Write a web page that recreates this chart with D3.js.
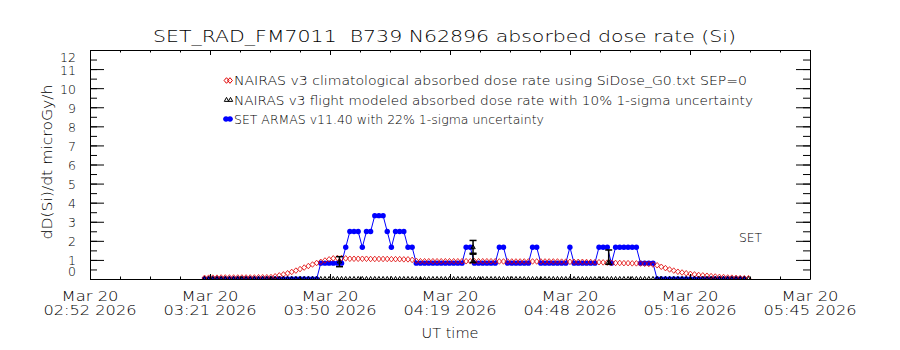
<!DOCTYPE html>
<html><head><meta charset="utf-8">
<script src="https://cdn.jsdelivr.net/npm/d3@7"></script>
<style>
body{margin:0;background:#fff}
svg{display:block}
text{font-family:"DejaVu Sans",sans-serif;font-weight:200;fill:#000;white-space:pre}
</style>
</head><body>
<svg id="c" width="900" height="350"></svg>
<script>
// ---------------- data ----------------
const chartTitle = "SET_RAD_FM7011  B739 N62896 absorbed dose rate (Si)";
const yAxisLabel = "dD(Si)/dt microGy/h";
const xAxisLabel = "UT time";
const cornerLabel = "SET";
const xDomain = ["2026-03-20T02:52:25", "2026-03-20T05:45:49"];
const xTickDateLabels = ["Mar 20","Mar 20","Mar 20","Mar 20","Mar 20","Mar 20","Mar 20"];
const xTickTimeLabels = ["02:52 2026","03:21 2026","03:50 2026","04:19 2026","04:48 2026","05:16 2026","05:45 2026"];
const yDomain = [0, 12];
const yTicks = [0,1,2,3,4,5,6,7,8,9,10,11,12];
const legendLabels = [
  "NAIRAS v3 climatological absorbed dose rate using SiDose_G0.txt SEP=0",
  "NAIRAS v3 flight modeled absorbed dose rate with 10% 1-sigma uncertainty",
  "SET ARMAS v11.40 with 22% 1-sigma uncertainty"
];
// one-minute samples starting at sampleStart
const sampleStart = "2026-03-20T03:20:00";
const sampleStepSec = 60;
// SET ARMAS measured dose rate (microGy/h)
const armasDose = [
  0,0,0,0,0,0,0,0,0,0,0,0,0,0,0,0,0,0,0,0,0,0,0,0,0,0,0,0,
  0.83,0.83,0.83,0.83,0.83,0.83,
  1.66,2.49,2.49,2.49,1.66,2.49,2.49,3.32,3.32,3.32,2.49,1.66,2.49,2.49,2.49,1.66,1.66,
  0.83,0.83,0.83,0.83,0.83,0.83,0.83,0.83,0.83,0.83,0.83,0.83,
  1.66,1.66,
  0.83,0.83,0.83,0.83,0.83,0.83,
  1.66,1.66,
  0.83,0.83,0.83,0.83,0.83,0.83,
  1.66,1.66,
  0.83,0.83,0.83,0.83,0.83,0.83,0.83,
  1.66,
  0.83,0.83,0.83,0.83,0.83,0.83,
  1.66,1.66,1.66,
  0.83,
  1.66,1.66,1.66,1.66,1.66,1.66,
  0.83,0.83,0.83,0.83,
  0,0,0,0,0,0,0,0,0,0,0,0,0,0,0,0,0,0,0,0,0,0
];
// NAIRAS climatological dose rate
const nairasClimDose = [
  0.06,0.07,0.07,0.07,0.08,0.08,0.08,0.08,0.08,0.08,0.08,0.08,0.08,0.09,0.09,0.09,
  0.10,0.14,0.19,0.24,0.30,0.37,0.44,0.52,0.60,0.68,0.76,0.84,
  0.90,0.97,1.03,1.08,1.10,1.10,1.08,
  1.06,1.06,1.06,1.06,1.06,1.05,1.05,1.05,1.05,1.05,1.04,1.04,1.04,1.03,1.03,1.00,
  0.95,0.93,0.93,0.93,0.93,0.93,0.93,0.93,0.93,0.93,0.93,0.93,0.93,0.93,0.93,0.93,0.93,0.93,0.93,0.93,
  0.92,0.92,0.92,0.92,0.92,0.92,0.92,0.92,0.92,0.92,0.92,0.92,0.92,0.92,0.92,
  0.91,0.91,0.90,0.90,0.90,0.90,0.89,0.89,0.88,0.88,0.87,0.86,0.85,0.84,0.84,0.83,0.83,0.82,0.82,0.81,0.80,0.79,0.76,
  0.72,0.64,0.57,0.50,0.44,0.38,0.34,0.30,0.27,0.24,0.21,0.19,0.17,0.15,0.13,0.11,0.10,0.08,0.07,0.06,0.05,0.04,0.04
];
// NAIRAS flight-model track (zero where not computed)
const flightModelTrack = [
  0,0,0,0,0,0,0,0,0,0,0,0,0,0,0,0,0,0,0,0,0,0,0,0,0,0,0,0,0,0,0,0,0,0,0,0,0,0,0,0,0,0,0,0,
  0,0,0,0,0,0,0,0,0,0,0,0,0,0,0,0,0,0,0,0,0,0,0,0,0,0,0,0,0,0,0,0,0,0,0,0,0,0,0,0,0,0,0,0,
  0,0,0,0,0,0,0,0,0,0,0,0,0,0,0,0,0,0,0,0,0,0,0,0,0,0,0,0,0,0,0,0,0,0,0,0,0,0,0,0,0,0,0,0
];
// flight-model points with uncertainty bars
const fmTimes  = ["2026-03-20T03:52:30","2026-03-20T04:24:40","2026-03-20T04:24:40","2026-03-20T04:57:20"];
const fmValues = [0.91, 1.66, 0.95, 0.90];
const fmLow    = [0.645, 1.30, 0.86, 0.77];
const fmHigh   = [1.17, 2.02, 1.35, 1.52];

// ---------------- drawing ----------------
const W = 900, H = 350;
const M = {l: 90, r: 810, t: 50, b: 279};
const parse = d3.timeParse("%Y-%m-%dT%H:%M:%S");
const x = d3.scaleTime().domain(xDomain.map(parse)).range([M.l, M.r]);
const y = d3.scaleLinear().domain(yDomain).range([M.b, M.t]);
const t0 = parse(sampleStart);
const tAt = i => new Date(t0.getTime() + i * sampleStepSec * 1000);

const svg = d3.select("#c");
svg.append("rect").attr("width", W).attr("height", H).attr("fill", "#fff");
svg.append("defs").append("clipPath").attr("id", "plotclip")
  .append("rect").attr("x", M.l).attr("y", M.t).attr("width", M.r - M.l).attr("height", M.b - M.t);

const plot = svg.append("g").attr("clip-path", "url(#plotclip)");

const diamond = "M0,-2.8L2.4,0L0,2.8L-2.4,0Z";
const triangle = "M0,-2.6L2.2,1.4L-2.2,1.4Z";

// SET ARMAS: blue line + filled dots
const armasPts = armasDose.map((v, i) => [x(tAt(i)), y(v)]);
plot.append("path").attr("d", d3.line()(armasPts))
  .attr("fill", "none").attr("stroke", "#0000ff").attr("stroke-width", 1);
plot.append("g").selectAll("circle").data(armasPts).join("circle")
  .attr("cx", d => d[0]).attr("cy", d => d[1]).attr("r", 2.7).attr("fill", "#0000ff");

// NAIRAS climatological: red diamonds
plot.append("g").selectAll("path").data(nairasClimDose).join("path")
  .attr("d", diamond)
  .attr("transform", (v, i) => `translate(${x(tAt(i))},${y(v)})`)
  .attr("fill", "none").attr("stroke", "#e00000").attr("stroke-width", 1).attr("opacity", 0.8);

// flight model track: black triangles
plot.append("g").selectAll("path").data(flightModelTrack).join("path")
  .attr("d", triangle)
  .attr("transform", (v, i) => `translate(${x(tAt(i))},${y(v)})`)
  .attr("fill", "none").attr("stroke", "#000").attr("stroke-width", 1);

// flight model error bars
const eb = plot.append("g").attr("stroke", "#000").attr("stroke-width", 1.5).attr("fill", "none");
fmTimes.forEach((t, i) => {
  const cx = x(parse(t));
  eb.append("line").attr("x1", cx).attr("x2", cx).attr("y1", y(fmLow[i])).attr("y2", y(fmHigh[i]));
  eb.append("line").attr("x1", cx - 3.5).attr("x2", cx + 3.5).attr("y1", y(fmLow[i])).attr("y2", y(fmLow[i]));
  eb.append("line").attr("x1", cx - 3.5).attr("x2", cx + 3.5).attr("y1", y(fmHigh[i])).attr("y2", y(fmHigh[i]));
  eb.append("path").attr("d", triangle).attr("stroke-width", 1)
    .attr("transform", `translate(${cx},${y(fmValues[i])})`);
});

// ---------------- axes ----------------
const [d0, d1] = x.domain();
const majorT = d3.range(7).map(i => new Date(+d0 + (d1 - d0) * i / 6));
const minorT = d3.range(25).map(i => new Date(+d0 + (d1 - d0) * i / 24));
const yMinor = d3.range(0, 24.5).map(i => i / 2);

function styleAxis(g) {
  g.selectAll("path,line").attr("stroke", "#000").attr("stroke-width", 1);
  g.attr("font-family", "DejaVu Sans").attr("font-size", 12.5);
}
function addAxis(axisFn, transform, noDomain) {
  const g = svg.append("g").attr("transform", transform).call(axisFn).call(styleAxis);
  if (noDomain) g.select(".domain").remove();
  return g;
}
// bottom
addAxis(d3.axisBottom(x).tickValues(majorT).tickSizeInner(-5).tickSizeOuter(0).tickFormat(""), `translate(0,${M.b})`);
addAxis(d3.axisBottom(x).tickValues(minorT).tickSizeInner(-2.5).tickSizeOuter(0).tickFormat(""), `translate(0,${M.b})`, true);
// top
addAxis(d3.axisTop(x).tickValues(majorT).tickSizeInner(-5).tickSizeOuter(0).tickFormat(""), `translate(0,${M.t})`);
addAxis(d3.axisTop(x).tickValues(minorT).tickSizeInner(-2.5).tickSizeOuter(0).tickFormat(""), `translate(0,${M.t})`, true);
// left
const yl = addAxis(d3.axisLeft(y).tickValues(yTicks).tickSizeInner(-14).tickSizeOuter(0).tickPadding(14).tickFormat(d3.format("d")), `translate(${M.l},0)`);
addAxis(d3.axisLeft(y).tickValues(yMinor).tickSizeInner(-7).tickSizeOuter(0).tickFormat(""), `translate(${M.l},0)`, true);
yl.selectAll(".tick text").attr("y", d => d === 12 ? 7 : d === 0 ? -8 : 1);
// right
addAxis(d3.axisRight(y).tickValues(yTicks).tickSizeInner(-14).tickSizeOuter(0).tickFormat(""), `translate(${M.r},0)`);
addAxis(d3.axisRight(y).tickValues(yMinor).tickSizeInner(-7).tickSizeOuter(0).tickFormat(""), `translate(${M.r},0)`, true);

// x tick labels (two lines)
const xl = svg.append("g").attr("font-size", 13.5).attr("text-anchor", "middle");
majorT.forEach((t, i) => {
  xl.append("text").attr("x", x(t)).attr("y", 300.5).text(xTickDateLabels[i])
    .attr("textLength", 57).attr("lengthAdjust", "spacingAndGlyphs");
  xl.append("text").attr("x", x(t)).attr("y", 315).text(xTickTimeLabels[i])
    .attr("textLength", 93).attr("lengthAdjust", "spacingAndGlyphs");
});

// titles
svg.append("text").attr("x", 153).attr("y", 42).attr("font-size", 15).text(chartTitle)
  .attr("textLength", 583).attr("lengthAdjust", "spacingAndGlyphs");
svg.append("text").attr("x", 450).attr("y", 338).attr("font-size", 13.5).attr("text-anchor", "middle")
  .text(xAxisLabel).attr("textLength", 57).attr("lengthAdjust", "spacingAndGlyphs");
svg.append("text").attr("transform", "translate(52,162) rotate(-90)").attr("font-size", 13.5)
  .attr("text-anchor", "middle").text(yAxisLabel)
  .attr("textLength", 155).attr("lengthAdjust", "spacingAndGlyphs");
svg.append("text").attr("x", 739).attr("y", 242).attr("font-size", 13).text(cornerLabel)
  .attr("textLength", 23).attr("lengthAdjust", "spacingAndGlyphs");

// legend
const legY = [80.5, 100, 119];
const legW = [513, 519, 310];
const lg = svg.append("g");
legendLabels.forEach((s, i) => {
  lg.append("text").attr("x", 234).attr("y", legY[i] + 4.5).attr("font-size", 12)
    .text(s).attr("textLength", legW[i]).attr("lengthAdjust", "spacingAndGlyphs");
});
[226.5, 230].forEach(cx => lg.append("path").attr("d", diamond)
  .attr("transform", `translate(${cx},${legY[0]})`).attr("fill", "none").attr("stroke", "#e00000"));
[226.5, 230.5].forEach(cx => lg.append("path").attr("d", triangle)
  .attr("transform", `translate(${cx},${legY[1]})`).attr("fill", "none").attr("stroke", "#000"));
lg.append("line").attr("x1", 223).attr("x2", 233).attr("y1", legY[2]).attr("y2", legY[2]).attr("stroke", "#0000ff");
[226, 230].forEach(cx => lg.append("circle").attr("cx", cx).attr("cy", legY[2]).attr("r", 2.7).attr("fill", "#0000ff"));
</script>
</body></html>
